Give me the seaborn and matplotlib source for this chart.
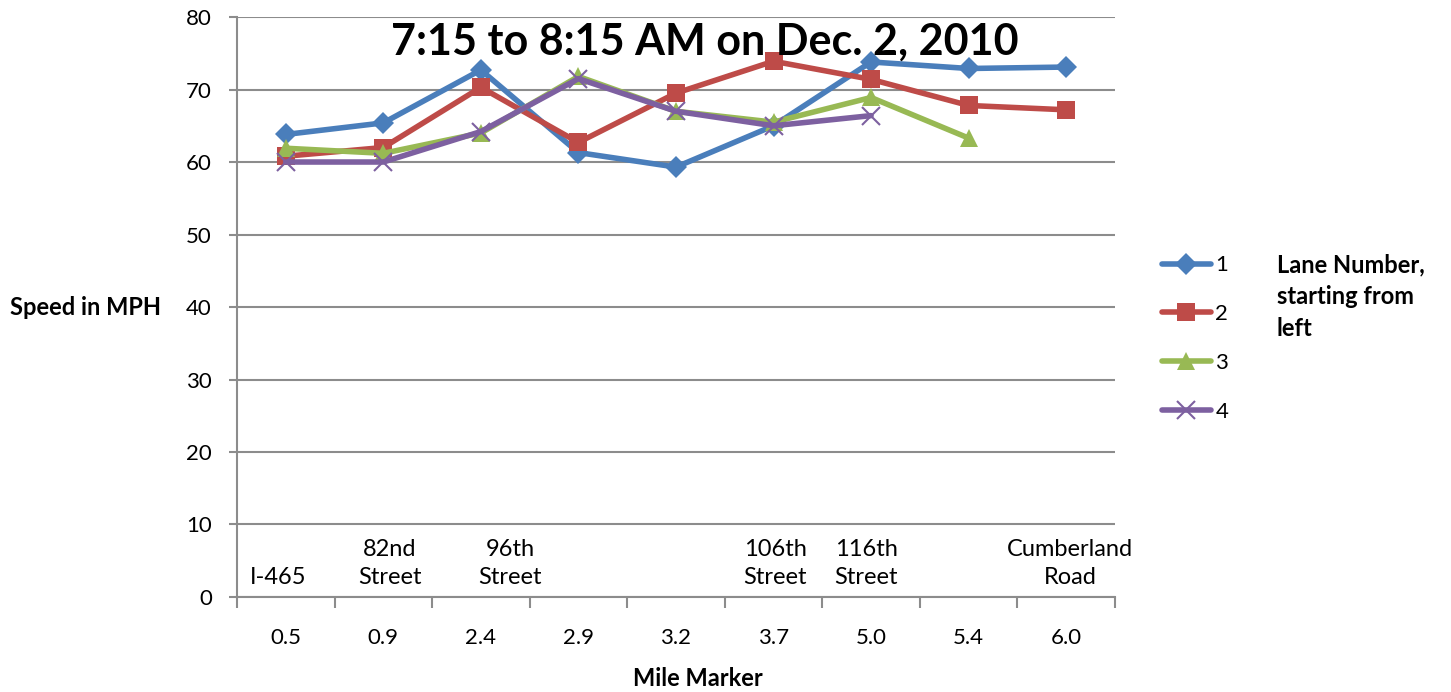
import seaborn as sns
import pandas as pd
import numpy as np
import matplotlib.pyplot as plt
from matplotlib.lines import Line2D

# mile markers (categories) and street names written inside the plot
miles = ['0.5', '0.9', '2.4', '2.9', '3.2', '3.7', '5.0', '5.4', '6.0']
streets = ['I-465', '82nd\nStreet', '96th\nStreet', '', '', '106th\nStreet', '116th\nStreet', '', 'Cumberland\nRoad']

# speed per lane, NaN where no reading
lane1 = [63.8, 65.4, 72.7, 61.3, 59.3, 65.0, 73.8, 72.9, 73.1]
lane2 = [60.8, 62.0, 70.3, 62.7, 69.5, 73.9, 71.4, 67.8, 67.2]
lane3 = [61.9, 61.2, 64.0, 71.8, 67.0, 65.5, 68.9, 63.3, np.nan]
lane4 = [60.0, 60.0, 64.2, 71.5, 67.0, 65.0, 66.4, np.nan, np.nan]
lanes = ['1', '2', '3', '4']

rows = []
for lane, vals in zip(lanes, [lane1, lane2, lane3, lane4]):
    for i, v in enumerate(vals):
        rows.append({'pos': i, 'speed': v, 'lane': lane})
df = pd.DataFrame(rows).dropna()

sns.set_style('white')
plt.rcParams['font.family'] = ['Lato', 'DejaVu Sans']
plt.rcParams['text.color'] = 'black'
plt.rcParams['xtick.color'] = '#8c8c8c'
plt.rcParams['ytick.color'] = '#8c8c8c'
plt.rcParams['xtick.labelcolor'] = 'black'
plt.rcParams['ytick.labelcolor'] = 'black'
plt.rcParams['axes.labelcolor'] = 'black'

palette = {'1': '#4A7EBB', '2': '#BE4B48', '3': '#98B954', '4': '#7D60A0'}
marks = {'1': 'D', '2': 's', '3': '^', '4': 'x'}
msize = {'1': 11, '2': 13, '3': 13, '4': 13}

fig = plt.figure(figsize=(14.51, 6.92), dpi=100)
ax = fig.add_axes([0.1633, 0.1373, 0.6051, 0.8381])

for lane in lanes:
    sub = df[df['lane'] == lane]
    sns.lineplot(data=sub, x='pos', y='speed', color=palette[lane], marker=marks[lane],
                 markersize=msize[lane], markeredgewidth=1.5 if lane == '4' else 0,
                 markeredgecolor=palette[lane], linewidth=4, ax=ax, label=lane,
                 legend=False)

ax.set_xlim(-0.5, len(miles) - 0.5)
ax.set_ylim(0, 80)
ax.set_yticks(range(0, 81, 10))
ax.yaxis.grid(True, color='#8c8c8c', linewidth=1.5)
ax.set_axisbelow(True)
for side in ['top', 'right']:
    ax.spines[side].set_visible(False)
ax.spines['left'].set_color('#8c8c8c')
ax.spines['bottom'].set_color('#8c8c8c')
ax.spines['left'].set_linewidth(1.5)
ax.spines['bottom'].set_linewidth(1.5)

# x ticks at category boundaries, labels centred in each category
ax.set_xticks(np.arange(-0.5, len(miles), 1))
ax.set_xticklabels([])
ax.set_xticks(range(len(miles)), minor=True)
ax.set_xticklabels(miles, minor=True)
ax.tick_params(axis='x', which='major', bottom=True, direction='out', length=8, width=1.5)
ax.tick_params(axis='x', which='minor', bottom=True, length=0, pad=22, labelsize=16)
ax.tick_params(axis='y', left=True, direction='out', length=6, width=1.5, labelsize=16, pad=12)

ax.set_xlabel('Mile Marker', fontsize=17, fontweight='bold', va='center')
ax.xaxis.set_label_coords(0.525, -0.14)
ax.set_ylabel('Speed in MPH', fontsize=17, fontweight='bold', rotation=0, ha='center', va='center')
ax.yaxis.set_label_coords(-0.173, 0.5)

offsets = [-0.08, 0.07, 0.3, 0, 0, 0.02, -0.05, 0, 0.04]
for i, s in enumerate(streets):
    if s:
        ax.text(i + offsets[i], 1.3, s, ha='center', va='bottom', fontsize=17,
                linespacing=1.4)

ax.text(0.533, 0.958, '7:15 to 8:15 AM on Dec. 2, 2010', transform=ax.transAxes,
        ha='center', va='center', fontsize=31, fontweight='bold')

handles = [Line2D([], [], color=palette[l], marker=marks[l], markersize=msize[l],
                  markeredgewidth=1.5 if l == '4' else 0, markeredgecolor=palette[l],
                  linewidth=4) for l in lanes]
fig.legend(handles, lanes, loc='upper left', bbox_to_anchor=(0.787, 0.66), frameon=False,
           fontsize=16, handlelength=2.2, labelspacing=1.3, handletextpad=0.2)
fig.text(0.880, 0.571, 'Lane Number,\nstarting from\nleft', fontsize=17, fontweight='bold',
         ha='left', va='center', linespacing=1.45)

fig.savefig('out.png', dpi=100)
